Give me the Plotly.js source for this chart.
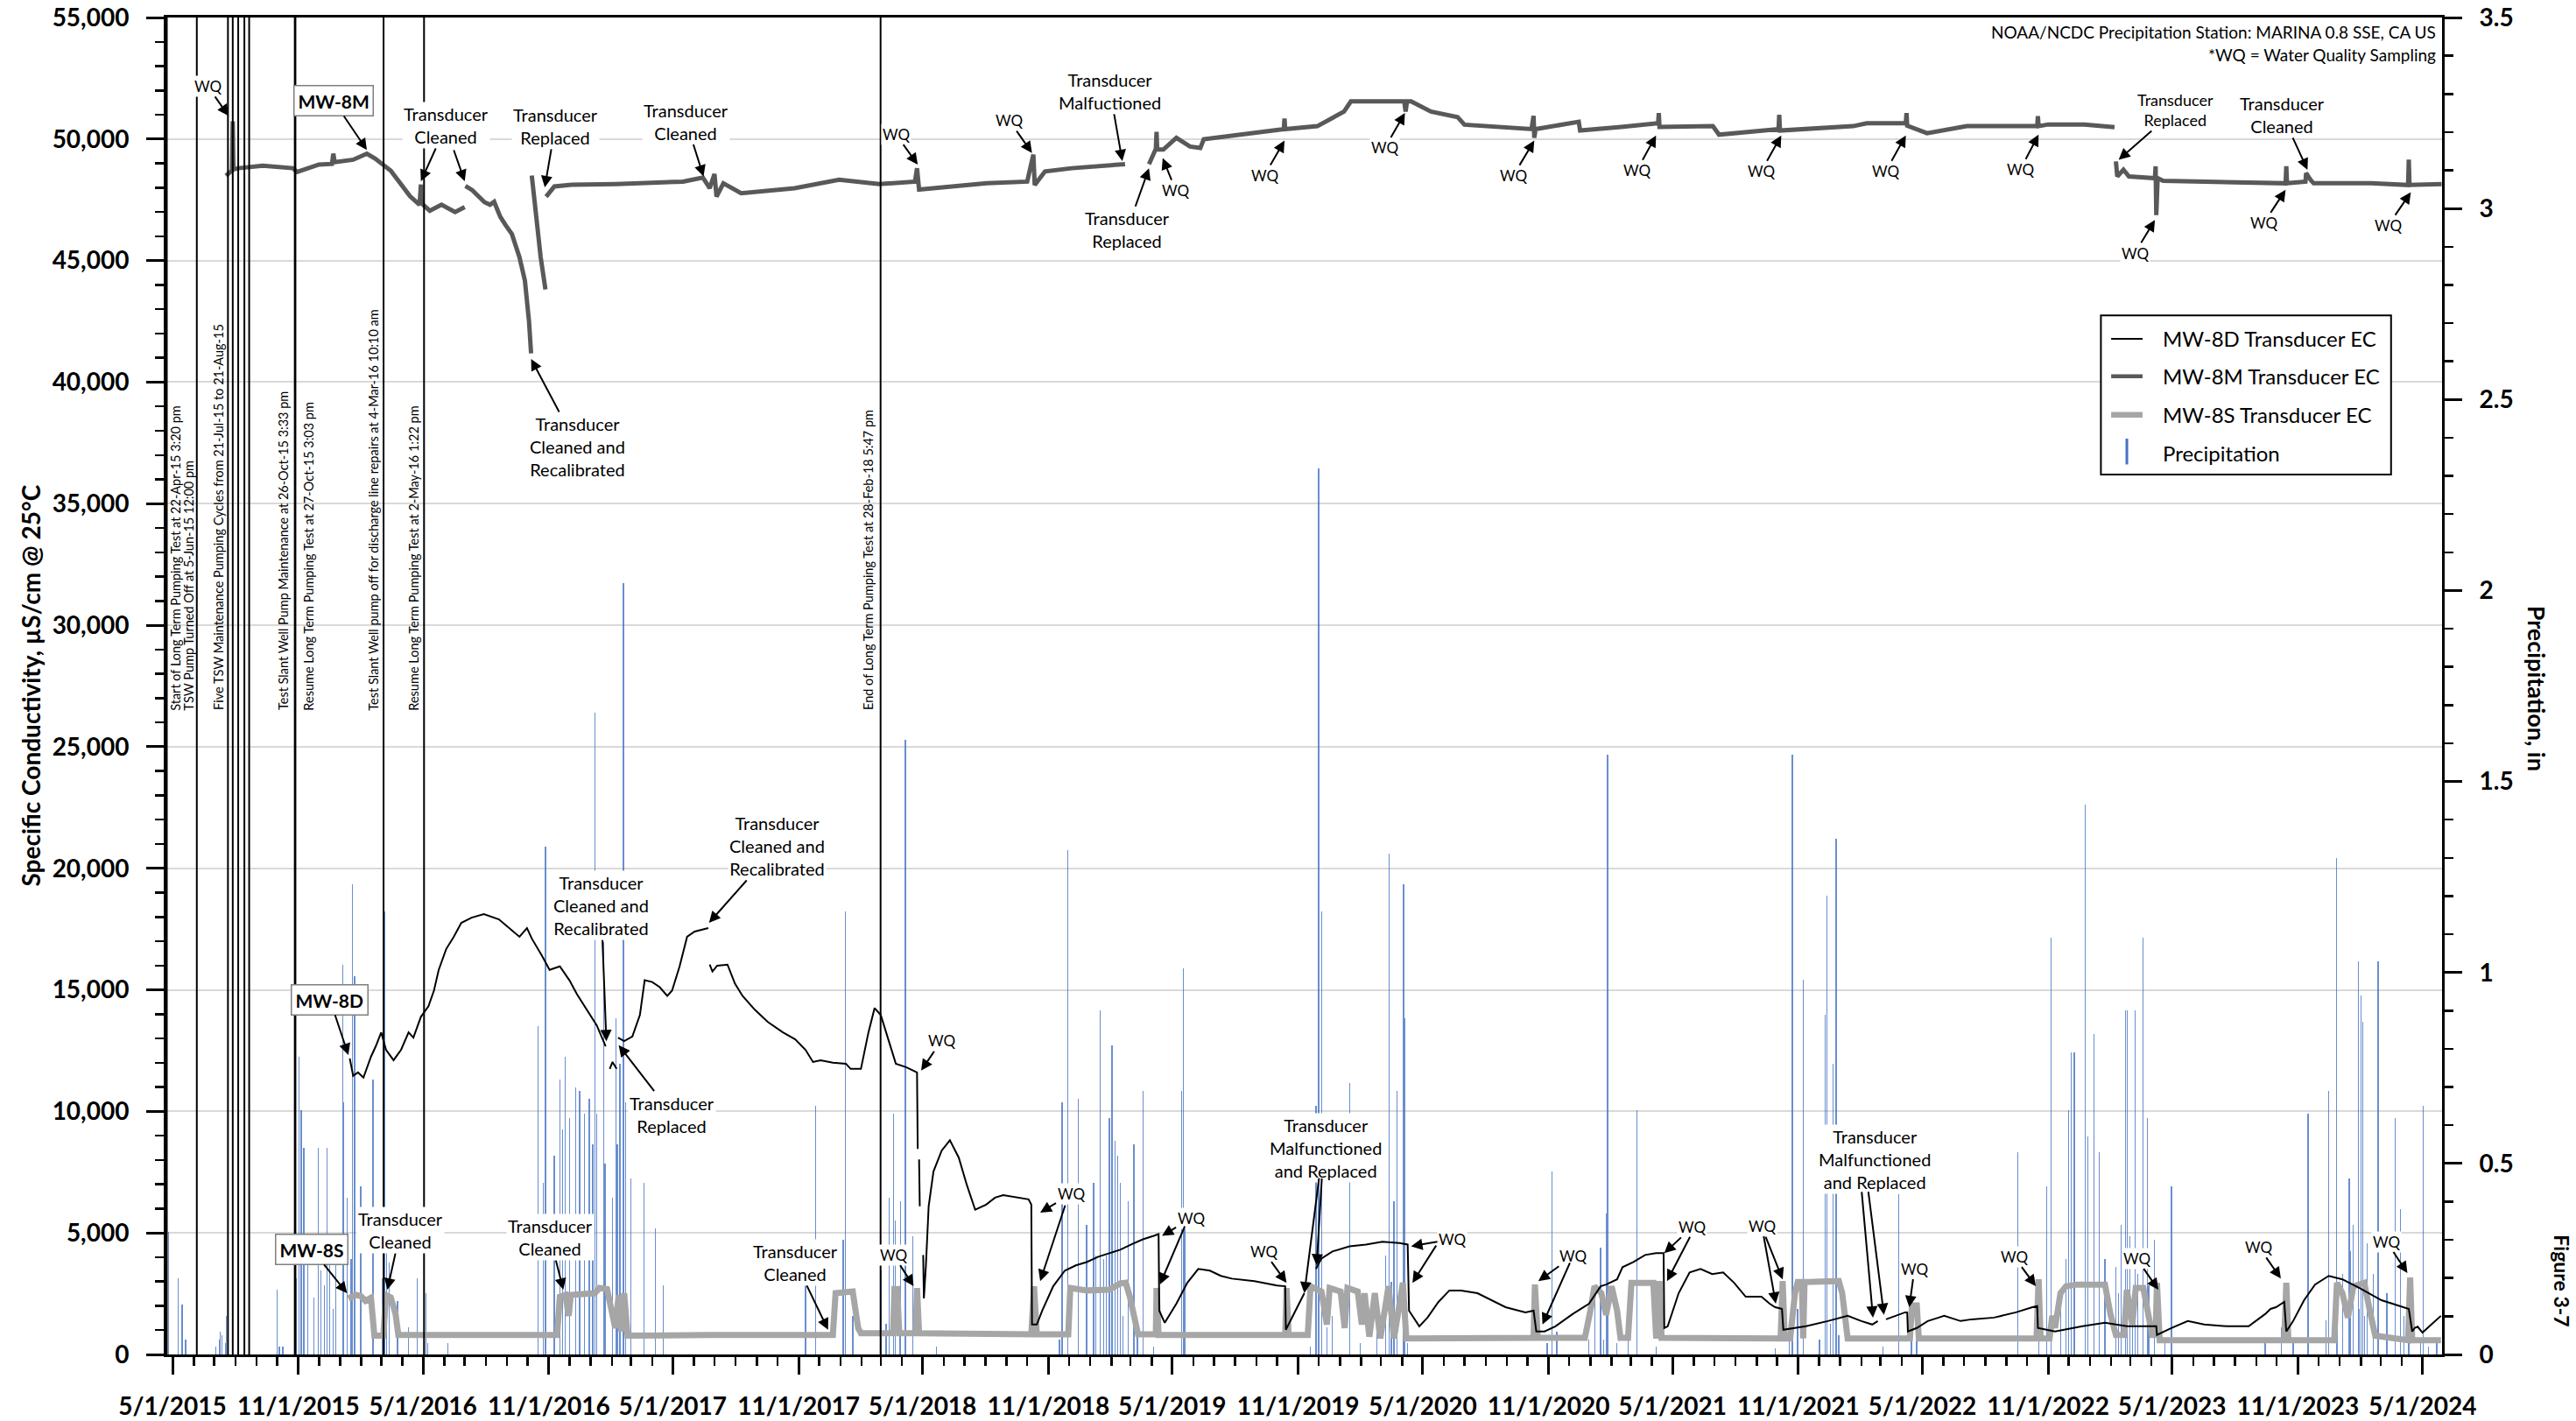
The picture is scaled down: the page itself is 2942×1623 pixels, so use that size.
<!DOCTYPE html>
<html><head><meta charset="utf-8">
<script src="https://cdn.plot.ly/plotly-3.0.1.min.js"></script>
<style>html,body{margin:0;padding:0;background:#fff;}#chart{width:2942px;height:1623px;}</style>
</head><body><div id="chart"></div>
<script>
const FONT = 'Lato, "Open Sans", sans-serif';

// ---------- MW-8D transducer EC (uS/cm) ; null = data gap ----------
const mw8dDates = ['2016-01-15','2016-01-20','2016-01-27','2016-02-04','2016-02-15','2016-02-22','2016-03-01','2016-03-08','2016-03-19','2016-03-30','2016-04-10','2016-04-17','2016-04-28','2016-05-09','2016-05-17','2016-05-24','2016-06-04','2016-06-15','2016-06-26','2016-07-11','2016-07-29','2016-08-20','2016-09-04','2016-09-19','2016-09-30','2016-10-07','2016-10-22','2016-11-02','2016-11-17','2016-12-01','2016-12-12','2016-12-27','2017-01-10','2017-01-23',
'2017-01-26','2017-01-29','2017-02-02','2017-02-08','2017-02-09',
'2017-02-10','2017-02-19','2017-03-03','2017-03-14','2017-03-21','2017-04-01','2017-04-12','2017-04-23','2017-04-30','2017-05-11','2017-05-22','2017-06-02','2017-06-22','2017-06-23',
'2017-06-24','2017-06-28','2017-07-05','2017-07-20','2017-07-31','2017-08-11','2017-08-29','2017-09-17','2017-10-09','2017-10-27','2017-11-11','2017-11-22','2017-12-03','2017-12-21','2018-01-09','2018-01-16','2018-01-31','2018-02-11','2018-02-20','2018-03-01','2018-03-12','2018-03-23','2018-04-07','2018-04-23','2018-04-24','2018-04-25',
'2018-04-26','2018-04-27','2018-04-29',
'2018-05-02','2018-05-03','2018-05-06','2018-05-10','2018-05-17','2018-05-29','2018-06-10','2018-06-23','2018-07-05','2018-07-17','2018-08-02','2018-08-15','2018-08-27','2018-09-20','2018-10-03','2018-10-07','2018-10-08','2018-10-15','2018-10-23','2018-11-08','2018-11-25','2018-12-11','2018-12-27','2019-01-13','2019-01-29','2019-02-14','2019-03-02','2019-03-19','2019-04-04','2019-04-11','2019-04-12','2019-04-20','2019-05-07','2019-05-23','2019-06-08','2019-06-25','2019-07-11','2019-07-27','2019-08-29','2019-10-01','2019-10-13','2019-10-14','2019-11-10','2019-11-18',
'2019-11-27','2019-12-05','2019-12-21','2020-01-15','2020-02-08','2020-03-03','2020-03-28','2020-04-09','2020-04-11','2020-04-26','2020-05-08','2020-05-24','2020-06-09','2020-06-26','2020-07-20','2020-08-05','2020-08-30','2020-09-28','2020-10-10','2020-10-14','2020-10-26','2020-11-11','2020-12-06','2020-12-30','2021-01-16','2021-01-24','2021-02-09','2021-02-17','2021-03-05','2021-03-22','2021-04-07','2021-04-18','2021-04-19','2021-04-24','2021-05-10','2021-05-26','2021-06-11','2021-06-28','2021-07-14','2021-07-30','2021-08-16','2021-09-08','2021-09-20','2021-09-28','2021-10-08','2021-10-10','2021-11-12','2021-12-14','2022-01-12','2022-02-01','2022-02-17','2022-02-25','2022-03-02',
'2022-03-09','2022-04-06','2022-04-09','2022-04-10','2022-04-23','2022-05-09','2022-05-25','2022-06-02','2022-06-26','2022-07-12','2022-08-14','2022-09-15','2022-10-09','2022-10-16','2022-10-17','2022-11-11','2022-12-21','2023-01-23','2023-02-24','2023-03-28','2023-04-08','2023-04-09','2023-04-30','2023-05-24','2023-06-17','2023-07-20','2023-08-21','2023-09-14','2023-09-22','2023-09-30','2023-10-12','2023-10-15','2023-10-25','2023-11-10','2023-11-26','2023-12-16','2024-01-05','2024-01-30','2024-03-02','2024-03-18','2024-04-11','2024-04-16','2024-04-20','2024-04-24','2024-05-01','2024-05-14','2024-05-28'];
const mw8dEC = [12180,11460,11604,11390,12247,12677,13249,12534,12104,12534,13249,13034,13892,14322,14966,15824,16683,17183,17756,17970,18113,17899,17541,17183,17541,17112,16397,15824,15967,15395,14823,14179,13535,12677,
null,11747,12033,11747,null,
13034,12891,13077,13964,15395,15323,15109,14751,14966,15967,17183,17398,17541,null,
16039,15753,15996,16039,15252,14751,14179,13678,13249,12963,12534,12033,12104,12004,11961,11747,11747,13249,14250,13964,12963,11961,11818,11603,8456,null,
8027,6095,null,
4093,2304,3663,6095,7526,8384,8814,8098,6954,5953,6167,6453,6553,6453,6382,6167,1231,1231,1803,2805,3449,3663,3800,4022,4165,4308,4522,4737,4880,4951,1803,1303,2090,2948,3520,3449,3234,3120,3020,2833,2805,1017,2519,null,
3520,3950,4237,4451,4523,4637,4580,4523,1803,1159,1517,2161,2633,2633,2519,2304,1946,1732,1803,945,945,1160,1660,2090,2805,2876,3090,3592,3807,4093,4165,4165,1088,1160,2520,3377,3520,3305,3377,2948,2376,2376,2090,1946,1875,1017,1160,1374,1589,1374,1231,1374,null,
1445,1732,1732,945,1088,1374,1517,1589,1374,1445,1517,1732,1946,1990,1088,945,1160,1302,1160,1160,1160,802,1088,1374,1231,1160,1160,1660,1875,1946,2161,945,1374,2233,2876,3234,3090,2733,2233,2090,1875,945,1100,1142,900,1231,1589];

// ---------- MW-8M transducer EC ----------
const mw8mDates = ['2015-07-18','2015-07-27','2015-07-28','2015-07-29','2015-08-05','2015-09-10','2015-10-24','2015-10-30','2015-12-01','2015-12-20','2015-12-22','2015-12-24','2016-01-20','2016-02-09','2016-02-21','2016-03-15','2016-04-12','2016-04-26','2016-04-28','2016-04-29','2016-05-11','2016-05-28','2016-06-17','2016-07-01','2016-07-01T12:00',
'2016-07-02','2016-07-12','2016-07-30','2016-08-07','2016-08-13','2016-08-22','2016-08-30','2016-09-08','2016-09-13','2016-09-19','2016-09-27','2016-10-03','2016-10-06','2016-10-06T12:00',
'2016-10-07','2016-10-20','2016-10-27','2016-10-27T12:00',
'2016-10-28','2016-11-09','2016-12-04','2017-02-07','2017-05-16','2017-06-14','2017-06-24','2017-07-01','2017-07-04','2017-07-14','2017-08-09','2017-10-26','2017-12-30','2018-02-27','2018-04-20','2018-04-23','2018-04-26','2018-08-03','2018-10-01','2018-10-10','2018-10-12','2018-10-27','2018-12-05','2019-01-06','2019-02-21','2019-03-10',
'2019-03-28','2019-04-07','2019-04-08','2019-04-09','2019-04-18','2019-05-07','2019-05-27','2019-06-11','2019-06-16','2019-08-15','2019-10-11','2019-10-12','2019-10-13','2019-11-29','2020-01-07','2020-01-17','2020-04-04','2020-04-06','2020-04-08','2020-04-14','2020-05-13','2020-06-21','2020-07-01','2020-10-07','2020-10-10','2020-10-11','2020-10-13','2020-12-15','2020-12-17','2021-02-15','2021-04-10','2021-04-11','2021-04-12','2021-06-29','2021-07-08','2021-10-03','2021-10-04','2021-10-05','2022-01-20','2022-02-09','2022-04-07','2022-04-08','2022-04-09','2022-05-08','2022-07-05','2022-09-10','2022-10-16','2022-10-17','2022-10-18','2022-11-01','2022-12-24','2023-02-06','2023-02-07',
'2023-02-08','2023-02-10','2023-02-19','2023-02-27','2023-04-06','2023-04-07','2023-04-08','2023-04-10','2023-04-18','2023-07-21','2023-10-14','2023-10-15','2023-10-16','2023-11-12','2023-11-13','2023-11-20','2023-11-24','2024-02-16','2024-04-10','2024-04-11','2024-04-12','2024-05-29'];
const mw8mEC = [48495,48700,50730,48750,48800,48900,48800,48650,48950,48980,49400,49050,49150,49400,49200,48700,47650,47300,48130,47350,47050,47300,47000,47200,null,
48070,47900,47400,47300,47420,46800,46450,46090,45650,45140,44170,42490,41180,null,
48500,45140,43810,null,
47630,48050,48120,48150,48250,48420,47980,48560,47630,48180,47770,47980,48330,48150,48250,48800,47920,48180,48250,49360,48110,48670,48800,48880,48970,null,
48970,49600,50300,49570,49570,50050,49690,49630,49990,50200,50410,50840,50410,50530,51130,51550,51550,51130,51550,51550,51130,50900,50590,50410,50950,50050,50410,50710,50350,50500,50650,51070,50500,50530,50180,50410,51000,50350,50530,50650,50650,51070,50550,50240,50530,50530,50530,50940,50530,50600,50600,50490,null,
49080,48460,48740,48460,48390,48880,46870,48390,48280,48250,48180,48880,48180,48250,48600,48300,48180,48180,48110,49150,48110,48150];

// ---------- MW-8S transducer EC ----------
const mw8sDates = ['2016-01-13','2016-01-24','2016-01-31','2016-02-07','2016-02-15','2016-02-18','2016-02-20','2016-03-04','2016-03-08','2016-03-15','2016-03-22','2016-03-26','2016-06-22','2016-11-13','2016-11-17','2016-11-25','2016-11-30','2016-12-03','2017-01-07','2017-01-14','2017-01-25','2017-02-01','2017-02-06','2017-02-11','2017-02-15','2017-02-19','2017-02-24','2017-06-24','2017-12-21','2017-12-25','2018-01-19','2018-01-27','2018-01-31','2018-03-19','2018-03-21','2018-03-25','2018-03-28','2018-04-21','2018-04-23','2018-04-26','2018-10-07','2018-10-11','2018-10-15','2018-11-30','2018-12-03','2018-12-27','2019-01-29','2019-02-14','2019-02-22','2019-02-28','2019-03-07','2019-03-12','2019-04-07','2019-04-08','2019-04-11','2019-10-13','2019-10-15','2019-10-18','2019-11-15','2019-11-19','2019-12-05','2019-12-13','2019-12-17','2020-01-02','2020-01-08','2020-01-12','2020-01-27','2020-02-02','2020-02-06','2020-02-13','2020-02-21','2020-02-29','2020-03-12','2020-03-20','2020-04-02','2020-04-07','2020-10-10','2020-10-12','2020-10-16','2020-12-24','2021-01-01','2021-01-07','2021-01-17','2021-01-24','2021-02-01','2021-02-09','2021-02-14','2021-02-25','2021-03-02','2021-04-03','2021-04-07','2021-04-09','2021-04-12','2021-04-15','2021-10-06','2021-10-09','2021-10-12','2021-10-20','2021-10-27','2021-10-31','2021-11-06','2021-11-08','2021-11-10','2021-12-30','2022-01-04','2022-01-12','2022-04-13','2022-04-16','2022-04-23','2022-04-26','2022-10-15','2022-10-18','2022-10-21','2022-11-03','2022-11-07','2022-11-11','2022-11-19','2022-11-27','2022-12-13','2023-01-23','2023-01-31','2023-02-08','2023-02-20','2023-02-24','2023-03-04','2023-03-09','2023-03-20','2023-03-27','2023-04-02','2023-04-07','2023-04-09','2023-04-13','2023-10-12','2023-10-15','2023-10-18','2023-12-24','2023-12-28','2024-01-05','2024-01-13','2024-01-21','2024-02-06','2024-02-14','2024-02-22','2024-04-10','2024-04-13','2024-04-16','2024-05-28'];
const mw8sEC = [2304,2448,2405,2204,2333,1088,773,773,2448,2347,1660,802,802,802,2376,2448,1589,2448,2520,2734,2691,1803,1088,2448,945,2520,773,802,802,2520,2590,1088,873,873,2690,2690,873,873,2734,873,830,2805,830,830,2734,2634,2662,2920,2948,2376,1374,830,830,2734,802,802,2734,802,802,2805,2590,1231,2734,2590,1088,2734,2590,1231,2520,730,2520,659,2805,659,2948,659,687,2876,687,687,1803,2805,2520,1631,2805,1803,687,687,2948,2948,773,773,3020,687,659,3020,659,659,2520,2977,2977,659,2977,3020,2520,659,659,2018,2018,659,659,3090,659,659,1589,1088,2519,2805,2876,2876,1660,802,802,2662,1231,2734,2734,1660,802,802,2948,587,587,2948,587,587,2948,2520,1517,2805,2948,1803,773,587,3162,587,587];

// ---------- Precipitation (in), NOAA/NCDC MARINA 0.8 SSE ----------
const precipDates = ['2015-04-25','2015-05-09','2015-05-15','2015-05-20','2015-07-03','2015-07-08','2015-07-10','2015-07-12','2015-07-17','2015-07-19','2015-10-01','2015-10-04','2015-10-09','2015-10-29','2015-11-02','2015-11-05','2015-11-09','2015-11-15','2015-11-24','2015-11-30','2015-12-04','2015-12-09','2015-12-13','2015-12-17','2015-12-22','2015-12-26','2016-01-05','2016-01-06','2016-01-11','2016-01-17','2016-01-19','2016-01-22','2016-01-31','2016-02-18','2016-03-02','2016-03-06','2016-03-09','2016-03-13','2016-03-25','2016-04-10','2016-04-23','2016-05-05','2016-05-08','2016-06-06','2016-10-16','2016-10-24','2016-10-27','2016-11-09','2016-11-17','2016-11-21','2016-11-25','2016-12-01','2016-12-10','2016-12-16','2016-12-23','2016-12-30','2017-01-04','2017-01-07','2017-01-10','2017-01-20','2017-01-22','2017-02-02','2017-02-07','2017-02-09','2017-02-13','2017-02-18','2017-02-21','2017-03-01','2017-03-20','2017-04-06','2017-04-17','2017-11-11','2017-11-26','2018-01-05','2018-01-08','2018-01-19','2018-03-01','2018-03-09','2018-03-13','2018-03-20','2018-03-22','2018-03-29','2018-03-30','2018-04-06','2018-04-17','2018-05-21','2018-11-17','2018-11-21','2018-11-29','2018-12-15','2018-12-27','2019-01-06','2019-01-09','2019-01-16','2019-01-21','2019-01-25','2019-01-29','2019-02-02','2019-02-06','2019-02-10','2019-02-14','2019-02-18','2019-02-26','2019-03-06','2019-03-11','2019-03-19','2019-04-04','2019-05-15','2019-05-17','2019-05-19','2019-11-19','2019-11-27','2019-12-01','2019-12-05','2019-12-13','2019-12-21','2020-01-15','2020-01-31','2020-02-24','2020-03-08','2020-03-13','2020-03-16','2020-03-20','2020-03-24','2020-04-03','2020-04-05','2020-04-09','2020-10-30','2020-11-06','2020-11-13','2020-12-30','2021-01-08','2021-01-16','2021-01-20','2021-01-24','2021-01-26','2021-02-09','2021-02-25','2021-03-10','2021-04-07','2021-09-28','2021-10-19','2021-10-23','2021-10-31','2021-11-08','2021-12-02','2021-12-10','2021-12-13','2021-12-18','2021-12-22','2021-12-26','2021-12-30','2022-03-05','2022-03-28','2022-04-15','2022-04-23','2022-09-18','2022-10-18','2022-10-30','2022-11-05','2022-11-19','2022-11-27','2022-12-01','2022-12-05','2022-12-09','2022-12-25','2022-12-29','2023-01-07','2023-01-15','2023-01-23','2023-02-08','2023-02-12','2023-02-16','2023-02-22','2023-02-25','2023-02-28','2023-03-04','2023-03-08','2023-03-12','2023-03-20','2023-03-26','2023-03-28','2023-04-05','2023-04-21','2023-04-30','2023-09-14','2023-10-08','2023-10-25','2023-11-16','2023-12-12','2023-12-16','2023-12-27','2023-12-28','2024-01-05','2024-01-15','2024-01-17','2024-01-21','2024-01-28','2024-01-29','2024-02-01','2024-02-04','2024-02-06','2024-02-10','2024-02-19','2024-02-26','2024-03-10','2024-03-22','2024-03-30','2024-04-04','2024-04-11','2024-04-28','2024-05-02','2024-05-10','2024-05-22'];
const precipIn = [0.32,0.20,0.13,0.04,0.02,0.04,0.06,0.05,0.03,0.10,0.17,0.02,0.02,0.20,0.78,0.64,0.54,0.27,0.15,0.54,0.22,0.18,0.54,0.30,0.12,0.31,1.02,0.66,0.41,0.25,1.23,0.99,0.44,0.72,0.20,1.16,0.31,0.24,0.14,0.07,0.20,0.16,0.03,0.03,0.86,0.45,1.33,0.52,0.72,0.59,0.78,0.62,0.70,0.69,0.63,0.67,0.55,1.68,0.63,1.08,0.50,0.41,0.88,0.55,0.76,2.02,0.66,0.46,0.45,0.33,0.18,0.20,0.65,0.30,1.16,0.10,0.22,0.08,0.41,0.63,0.35,0.05,0.40,1.61,0.31,0.02,0.04,0.66,1.32,0.67,0.34,0.45,0.26,0.90,0.25,0.26,0.62,0.81,0.56,0.52,0.45,0.10,0.40,0.55,0.07,0.69,0.02,0.69,1.01,0.35,0.02,0.65,2.32,1.16,0.07,0.10,0.71,0.03,0.16,0.26,1.31,0.19,0.40,0.69,1.23,0.88,0.03,0.03,0.48,0.06,0.04,0.16,0.28,0.04,0.37,1.57,0.03,0.08,0.64,0.02,0.015,0.04,1.57,0.12,0.98,0.04,0.89,1.20,0.08,0.76,1.35,0.05,0.02,0.42,0.07,0.04,0.53,0.04,0.44,1.09,0.16,0.25,0.64,0.79,0.79,1.44,0.57,0.84,0.53,0.25,0.23,0.16,0.34,0.90,0.90,0.31,0.16,0.90,0.21,1.09,0.62,0.18,0.30,0.04,0.44,0.03,0.07,0.04,0.63,0.09,0.69,1.30,0.16,0.21,0.46,0.27,0.34,1.03,0.12,0.94,0.87,0.10,0.29,0.21,1.03,0.16,0.62,0.38,0.10,0.04,0.03,0.65,0.02,0.04];

// ---------- Pumping-test events (vertical lines) ----------
const eventDates = ['2015-04-22 15:20','2015-06-05 12:00','2015-07-21','2015-07-28','2015-08-05','2015-08-14','2015-08-21','2015-10-26 15:33','2015-10-27 15:03','2016-03-04 10:10','2016-05-02 13:22','2018-02-28 17:47'];
const eventTexts = ['Start of Long Term Pumping Test at 22-Apr-15 3:20 pm','TSW Pump Turned Off at 5-Jun-15 12:00 pm','Five TSW Maintenance Pumping Cycles from 21-Jul-15 to 21-Aug-15','Test Slant Well Pump Maintenance at 26-Oct-15 3:33 pm','Resume Long Term Pumping Test at 27-Oct-15 3:03 pm','Test Slant Well pump off for discharge line repairs at 4-Mar-16 10:10 am','Resume Long Term Pumping Test at 2-May-16 1:22 pm','End of Long Term Pumping Test at 28-Feb-18 5:47 pm'];
const eventTextX = [0.0042,0.0097,0.0231,0.0514,0.0626,0.0909,0.1086,0.3086];

// ---------- traces ----------
const traces = [
  {type:'bar', x:precipDates, y:precipIn, xaxis:'x', yaxis:'y', name:'Precipitation',
   width:1.7*86400000, marker:{color:'#4472C4', line:{width:0}}, opacity:0.8, hoverinfo:'skip', showlegend:false},
  {type:'scatter', mode:'lines', x:mw8sDates, y:mw8sEC, xaxis:'x', yaxis:'y2', name:'MW-8S Transducer EC',
   line:{color:'#A6A6A6', width:7}, connectgaps:false, hoverinfo:'skip', showlegend:false},
  {type:'scatter', mode:'lines', x:mw8mDates, y:mw8mEC, xaxis:'x', yaxis:'y2', name:'MW-8M Transducer EC',
   line:{color:'#595959', width:5}, connectgaps:false, hoverinfo:'skip', showlegend:false},
  {type:'scatter', mode:'lines', x:mw8dDates, y:mw8dEC, xaxis:'x', yaxis:'y2', name:'MW-8D Transducer EC',
   line:{color:'#000000', width:2}, connectgaps:false, hoverinfo:'skip', showlegend:false}
];

// ---------- annotations ----------
const ARW = {showarrow:true, arrowhead:2, arrowsize:1.3, arrowwidth:2, arrowcolor:'black'};
function lbl(text, x, y, ax, ay, size){ return Object.assign({text:text, x:x, y:y, xref:'x', yref:'y2', ax:ax, ay:ay, bgcolor:'white', borderpad:1,
  font:{family:FONT, size:size||20, color:'black'}}, ARW); }
function wq(x, y, ax, ay){ return lbl('WQ', x, y, ax, ay, 17); }
function arr(x, y, ax, ay){ return Object.assign({text:'', x:x, y:y, xref:'x', yref:'y2', ax:ax, ay:ay}, ARW); }
function boxed(text, x, y, ax, ay){ return Object.assign({text:text, x:x, y:y, xref:'x', yref:'y2', ax:ax, ay:ay, bgcolor:'white', bordercolor:'#7F7F7F', borderwidth:1.5, borderpad:4,
  font:{family:FONT, size:21, color:'black', weight:'bold'}}, ARW); }
function ptxt(text, x, y, size, extra){ return Object.assign({text:text, x:x, y:y, xref:'paper', yref:'paper', showarrow:false, bgcolor:'white',
  xanchor:'center', yanchor:'middle', font:{family:FONT, size:size||20, color:'black'}}, extra||{}); }

const annotations = [
  // MW-8M (top)
  wq('2015-07-22', 50950, -24, -34),
  boxed('MW-8M', '2016-02-09', 49550, -38, -56),
  lbl('Transducer<br>Cleaned', '2016-04-28', 48265, 29, -64), arr('2016-07-01', 48265, -13, -37),
  lbl('Transducer<br>Replaced', '2016-10-26', 48015, 12, -70),
  lbl('Transducer<br>Cleaned and<br>Recalibrated', '2016-10-06', 40950, 53, 100),
  lbl('Transducer<br>Cleaned', '2017-06-15', 48460, -20, -63),
  wq('2018-04-24', 48945, -25, -35),
  wq('2018-10-08', 49430, -26, -37),
  lbl('Transducer<br>Malfuctioned', '2019-02-17', 49095, -14, -80),
  lbl('Transducer<br>Replaced', '2019-03-28', 48795, -25, 70),
  wq('2019-04-17', 49215, 15, 37),
  wq('2019-10-12', 49935, -23, 40),
  wq('2020-04-05', 51075, -23, 40),
  wq('2020-10-11', 49935, -24, 40),
  wq('2021-04-07', 50150, -22, 40),
  wq('2021-10-07', 50150, -23, 41),
  wq('2022-04-07', 50150, -23, 41),
  wq('2022-10-18', 50185, -21, 40),
  lbl('Transducer<br>Replaced', '2023-02-12', 49150, 65, -57, 18),
  lbl('Transducer<br>Cleaned', '2023-11-15', 48735, -29, -63),
  wq('2023-04-06', 46670, -23, 38),
  wq('2023-10-14', 47910, -25, 38),
  wq('2024-04-14', 47810, -26, 38),
  // MW-8D / MW-8S (bottom)
  boxed('MW-8D', '2016-01-13', 12320, -21, -63),
  lbl('Transducer<br>Cleaned and<br>Recalibrated', '2017-01-24', 12890, -6, -155),
  lbl('Transducer<br>Replaced', '2017-02-11', 12725, 61, 79),
  lbl('Transducer<br>Cleaned and<br>Recalibrated', '2017-06-23', 17756, 78, -88),
  wq('2018-04-29', 11675, 23, -34),
  boxed('MW-8S', '2016-01-11', 2517, -40, -50),
  lbl('Transducer<br>Cleaned', '2016-03-10', 2661, 15, -68),
  lbl('Transducer<br>Cleaned', '2016-11-22', 2661, -15, -60),
  lbl('Transducer<br>Cleaned', '2017-12-14', 1015, -37, -77),
  wq('2018-04-18', 2805, -23, -36),
  wq('2018-10-20', 5837, 35, -21), arr('2018-10-20', 3018, 29, -88),
  wq('2019-04-16', 4879, 33, -20), arr('2019-04-13', 2877, 29, -68),
  wq('2019-10-15', 2949, -26, -36),
  ptxt('Transducer<br>Malfunctioned<br>and Replaced', 0.5094, 0.1545, 20),
  arr('2019-11-10', 2517, 17, -133), arr('2019-11-28', 3662, 6, -101),
  wq('2020-04-14', 4451, 47, -8), arr('2020-04-16', 2949, 28, -44),
  wq('2020-10-17', 3018, 40, -29), arr('2020-10-23', 1231, 32, -72),
  wq('2021-04-19', 4165, 32, -30), arr('2021-04-23', 3018, 27, -52),
  wq('2021-09-29', 2089, -16, -89), arr('2021-10-09', 3090, -20, -50),
  ptxt('Transducer<br>Malfunctioned<br>and Replaced', 0.7507, 0.1460, 20),
  arr('2022-02-18', 1516, -13, -145), arr('2022-03-06', 1631, -18, -142),
  wq('2022-04-12', 1945, 6, -44),
  wq('2022-10-14', 2805, -25, -34),
  wq('2023-04-11', 2661, -25, -36),
  wq('2023-10-07', 3122, -25, -36),
  wq('2024-04-09', 3349, -24, -36),
  // station note
  ptxt('NOAA/NCDC Precipitation Station: MARINA 0.8 SSE, CA US', 0.9981, 0.9892, 19, {xanchor:'right', bgcolor:'rgba(0,0,0,0)'}),
  ptxt('*WQ = Water Quality Sampling', 0.9981, 0.9722, 19, {xanchor:'right', bgcolor:'rgba(0,0,0,0)'}),
  // axis titles
  ptxt('Specific Conductivity, µS/cm @ 25°C', -0.0600, 0.5, 28, {textangle:-90, bgcolor:'rgba(0,0,0,0)', font:{family:FONT, size:28, color:'black', weight:'bold'}}),
  ptxt('Precipitation, in', 1.0419, 0.498, 27, {textangle:90, bgcolor:'rgba(0,0,0,0)', font:{family:FONT, size:27, color:'black', weight:'bold'}}),
  ptxt('Figure 3-7', 1.0527, 0.0548, 23, {textangle:90, bgcolor:'rgba(0,0,0,0)', font:{family:FONT, size:23, color:'black', weight:'bold'}})
];
// event line labels
eventTexts.forEach(function(t, i){
  annotations.push({text:t, x:eventTextX[i], y:0.4804, xref:'paper', yref:'paper', showarrow:false, textangle:-90,
    xanchor:'center', yanchor:'bottom', font:{family:FONT, size:14.5, color:'black'}});
});

// ---------- custom legend ----------
const legendNames = ['MW-8D Transducer EC','MW-8M Transducer EC','MW-8S Transducer EC','Precipitation'];
const legendY = [0.7597, 0.7316, 0.7028, 0.6740];
const legendSampleColor = ['#000000','#595959','#A6A6A6','#4472C4'];
const legendSampleWidth = [2, 4.5, 6.5, 3];
legendNames.forEach(function(n, i){
  annotations.push({text:n, x:0.8765, y:legendY[i], xref:'paper', yref:'paper', showarrow:false, xanchor:'left', yanchor:'middle',
    font:{family:FONT, size:24, color:'black'}});
});

const shapes = eventDates.map(function(d){
  return {type:'line', xref:'x', yref:'paper', x0:d, x1:d, y0:0, y1:1, line:{color:'black', width:2}, layer:'above'};
});
shapes.push({type:'rect', xref:'paper', yref:'paper', x0:0.8501, x1:0.9776, y0:0.6582, y1:0.7772,
  line:{color:'black', width:2}, fillcolor:'white', layer:'above'});
for (let i = 0; i < 3; i++) {
  shapes.push({type:'line', xref:'paper', yref:'paper', x0:0.8546, x1:0.8684, y0:legendY[i], y1:legendY[i],
    line:{color:legendSampleColor[i], width:legendSampleWidth[i]}, layer:'above'});
}
shapes.push({type:'line', xref:'paper', yref:'paper', x0:0.8615, x1:0.8615, y0:0.6657, y1:0.6850,
  line:{color:legendSampleColor[3], width:legendSampleWidth[3]}, layer:'above'});

const tickFont = {family:FONT, size:28, color:'black', weight:'bold'};
const layout = {
  width:2942, height:1623, autosize:false,
  margin:{l:190, r:153, t:20, b:76, pad:0},
  paper_bgcolor:'white', plot_bgcolor:'white',
  showlegend:false, bargap:0,
  xaxis:{type:'date', range:['2015-04-22','2024-05-29 14:00'], tick0:'2015-05-01', dtick:'M6', tickformat:'%-m/%-d/%Y',
    ticks:'outside', ticklen:20, tickwidth:3, tickcolor:'black', showline:true, linewidth:3, linecolor:'black', mirror:true,
    showgrid:false, zeroline:false, tickfont:tickFont, ticklabelstandoff:12,
    minor:{dtick:'M1', ticks:'outside', ticklen:10, tickwidth:2.5, tickcolor:'black', showgrid:false}},
  yaxis:{range:[0,3.5], dtick:0.5, side:'right', anchor:'x', ticks:'outside', ticklen:20, tickwidth:3, tickcolor:'black',
    showline:true, linewidth:3, linecolor:'black', showgrid:false, zeroline:false, tickfont:tickFont, ticklabelstandoff:14,
    minor:{dtick:0.1, ticks:'outside', ticklen:10, tickwidth:2.5, tickcolor:'black', showgrid:false}},
  yaxis2:{range:[0,55000], dtick:5000, tickformat:',d', side:'left', overlaying:'y', anchor:'x', ticks:'outside', ticklen:20, tickwidth:3,
    tickcolor:'black', showline:true, linewidth:3, linecolor:'black', showgrid:true, gridcolor:'#D9D9D9', gridwidth:2,
    zeroline:false, tickfont:tickFont, ticklabelstandoff:14,
    minor:{dtick:1000, ticks:'outside', ticklen:10, tickwidth:2.5, tickcolor:'black', showgrid:false}},
  annotations:annotations,
  shapes:shapes
};

Plotly.newPlot('chart', traces, layout, {displayModeBar:false, staticPlot:true});
</script></body></html>
